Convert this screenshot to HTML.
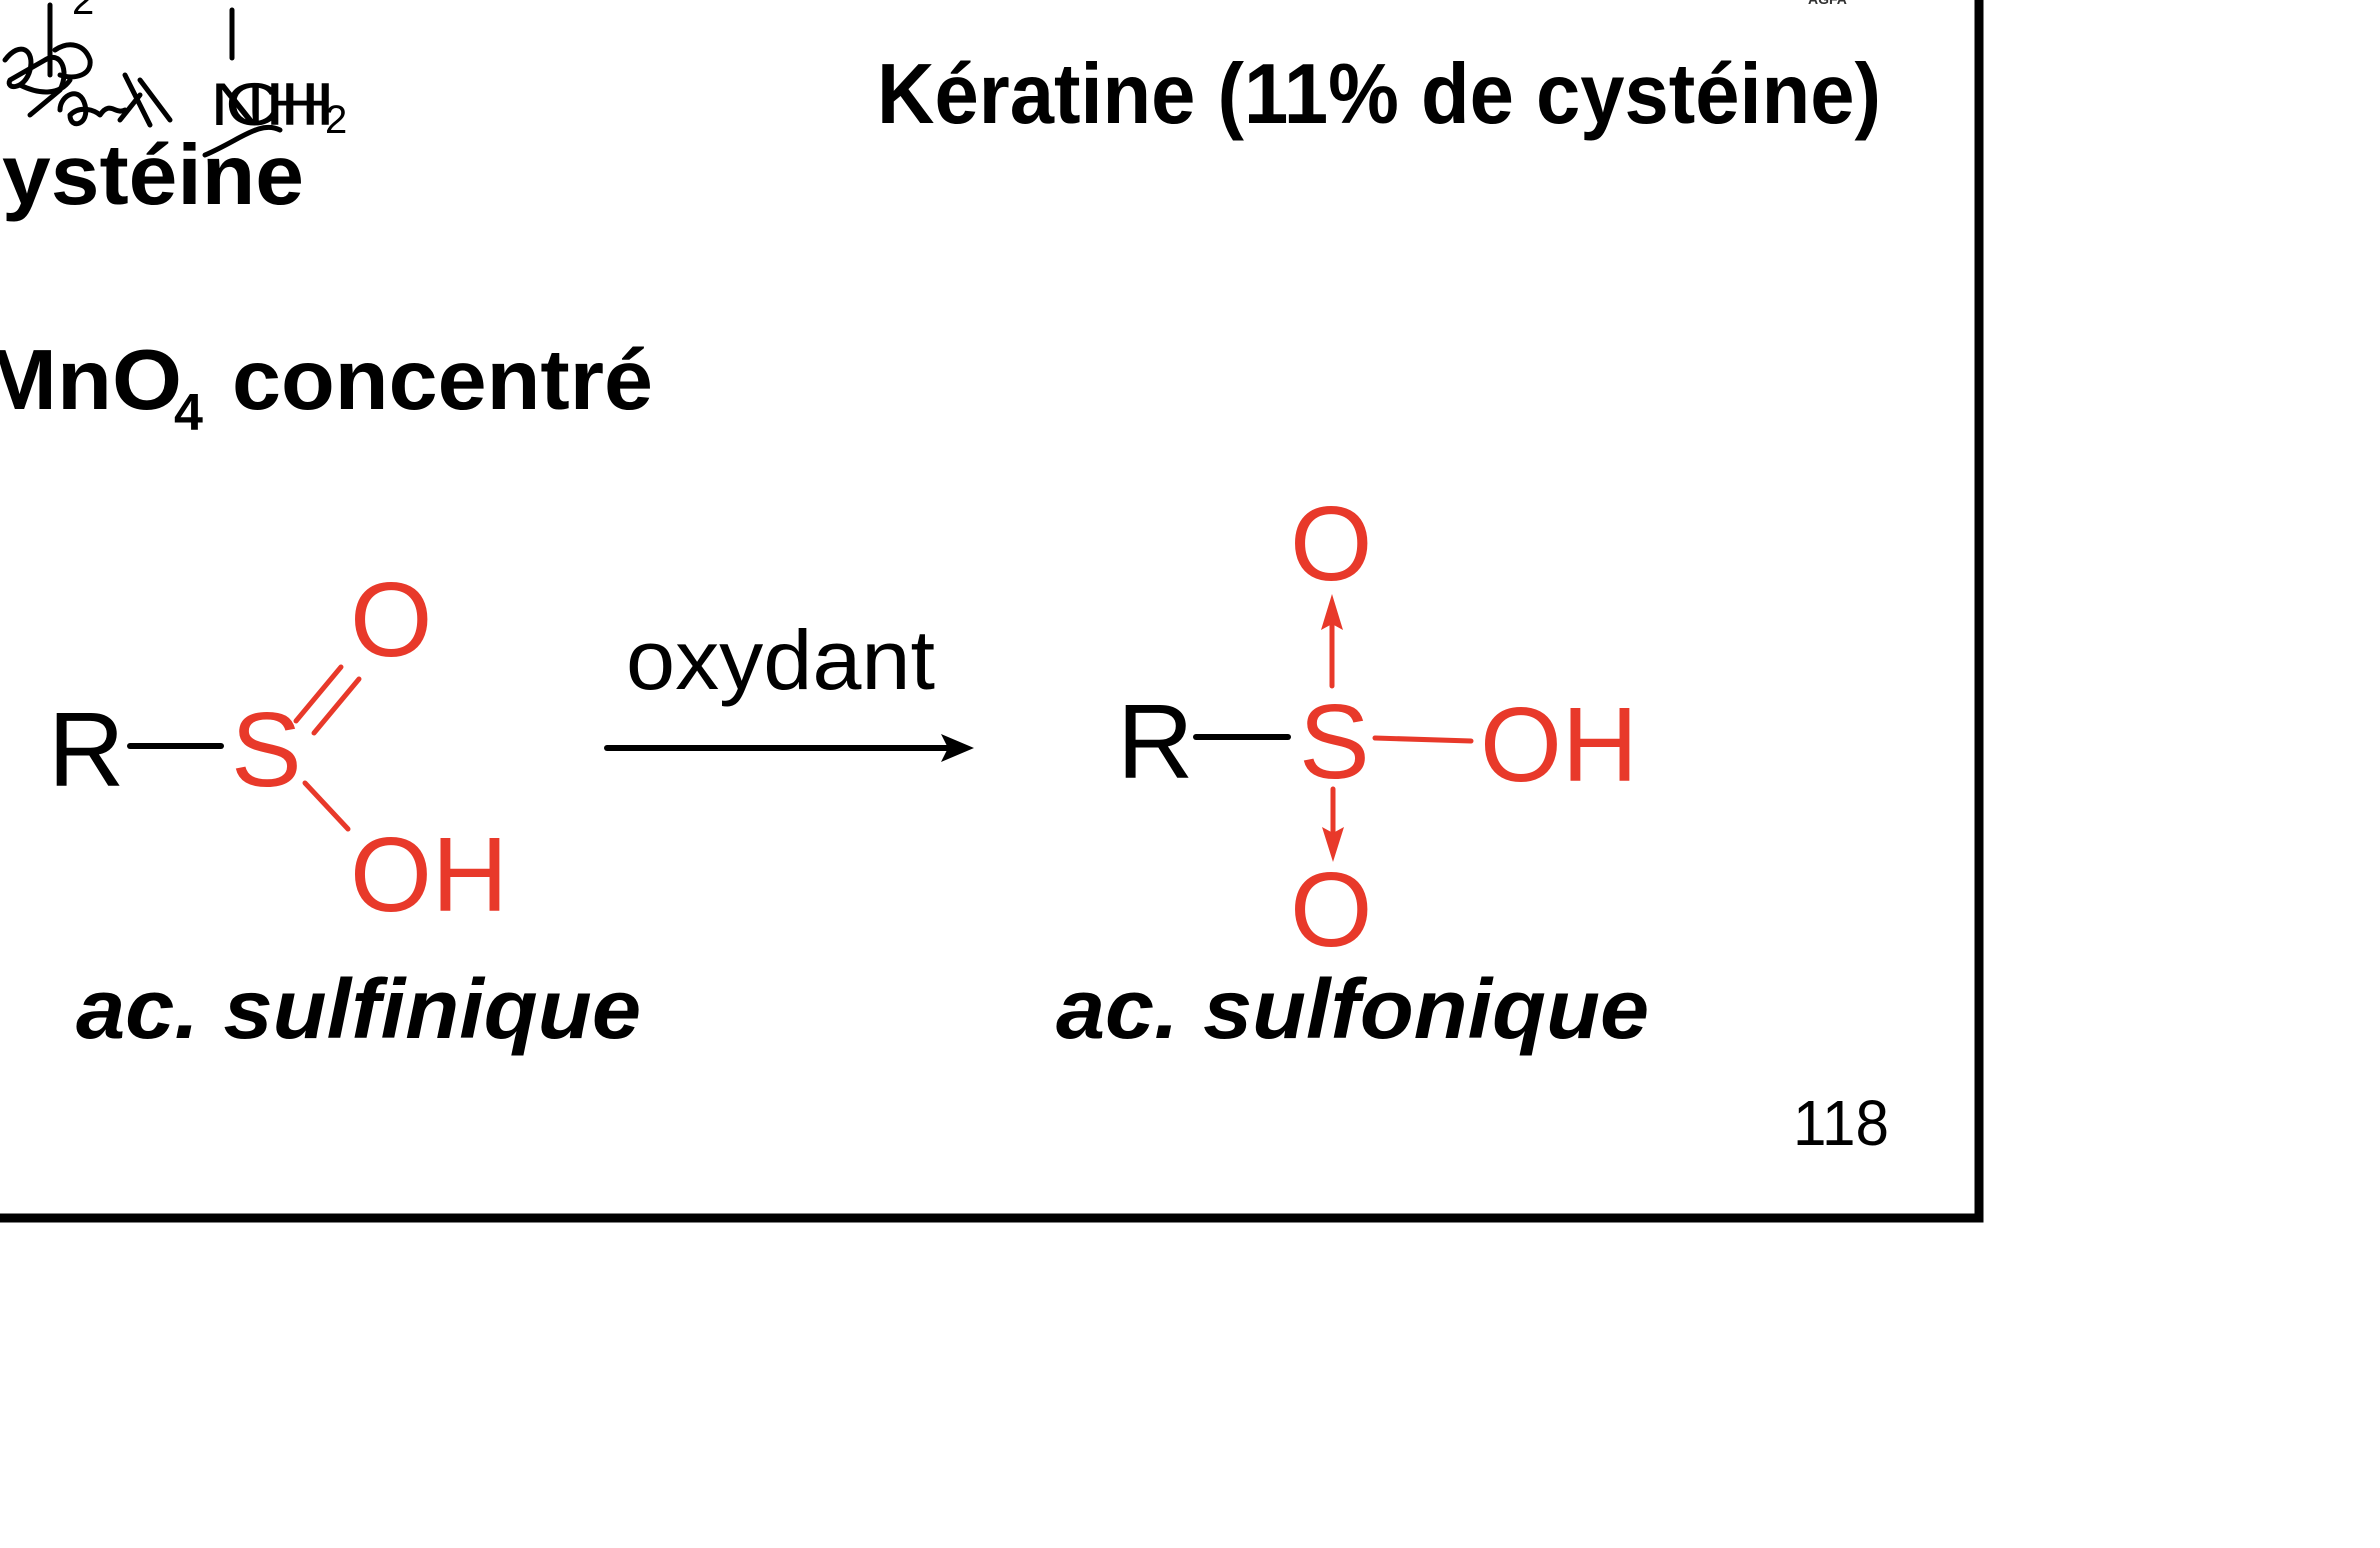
<!DOCTYPE html>
<html><head><meta charset="utf-8"><style>
html,body{margin:0;padding:0;background:#fff;}
svg{display:block;}
</style></head><body>
<svg width="2380" height="1548" viewBox="0 0 2380 1548" xmlns="http://www.w3.org/2000/svg">
<rect width="2380" height="1548" fill="#fff"/>
<!-- frame -->
<path d="M1979 -10 V1218 H-10" fill="none" stroke="#000" stroke-width="9"/>
<!-- scribbles -->
<g fill="none" stroke="#000" stroke-width="5" stroke-linecap="round" stroke-linejoin="round">
<path d="M232 10 V58"/>
<path d="M50 5 V75"/>
<path d="M5 60 C20 40 35 50 30 70 C25 90 5 90 10 80 L45 60 C60 50 70 70 60 90 L30 115"/>
<path d="M55 50 C70 40 85 45 90 60 C92 75 75 80 60 75 M20 85 C40 95 60 95 70 80"/>
<path d="M60 110 C60 95 80 85 85 105 C90 125 70 130 70 115 C80 105 95 110 100 115 C110 100 115 115 125 110"/>
<path d="M125 75 L150 125 M140 95 L120 120 M140 80 L170 120"/>
<path d="M205 155 C240 140 260 120 280 130"/>
</g>
<text x="72" y="14" font-family="Liberation Sans, sans-serif" font-size="40" fill="#000">2</text>
<text x="210" y="125" font-family="Liberation Sans, sans-serif" font-size="60" fill="#000" textLength="110" lengthAdjust="spacingAndGlyphs">NH</text>
<text x="225" y="125" font-family="Liberation Sans, sans-serif" font-size="60" fill="#000" textLength="110" lengthAdjust="spacingAndGlyphs">CH</text>
<text x="325" y="133" font-family="Liberation Sans, sans-serif" font-size="40" fill="#000">2</text>
<!-- logo -->
<text x="1808" y="4" font-family="Liberation Sans, sans-serif" font-size="14" font-weight="bold" fill="#333">AGFA</text>
<!-- titles -->
<text x="877" y="123" font-family="Liberation Sans, sans-serif" font-size="85" font-weight="bold" fill="#000" textLength="1004" lengthAdjust="spacingAndGlyphs">Kératine (11% de cystéine)</text>
<text x="2" y="204" font-family="Liberation Sans, sans-serif" font-size="85" font-weight="bold" fill="#000" textLength="302" lengthAdjust="spacingAndGlyphs">ystéine</text>
<text x="-18" y="409" font-family="Liberation Sans, sans-serif" font-size="85" font-weight="bold" fill="#000" textLength="200" lengthAdjust="spacingAndGlyphs">MnO</text>
<text x="174" y="430" font-family="Liberation Sans, sans-serif" font-size="52" font-weight="bold" fill="#000">4</text>
<text x="232" y="409" font-family="Liberation Sans, sans-serif" font-size="85" font-weight="bold" fill="#000" textLength="421" lengthAdjust="spacingAndGlyphs">concentré</text>
<!-- left molecule -->
<g font-family="Liberation Sans, sans-serif" font-size="106">
<text x="48" y="786" fill="#000">R</text>
<text x="231" y="786" fill="#e8392a">S</text>
<text x="350" y="656" fill="#e8392a">O</text>
<text x="350" y="911" fill="#e8392a" textLength="158" lengthAdjust="spacingAndGlyphs">OH</text>
</g>
<line x1="130" y1="746" x2="221" y2="746" stroke="#000" stroke-width="6" stroke-linecap="round"/>
<g stroke="#e8392a" stroke-width="5" stroke-linecap="round">
<line x1="296" y1="721" x2="341" y2="667"/>
<line x1="314" y1="733" x2="359" y2="679"/>
<line x1="305" y1="783" x2="348" y2="829"/>
</g>
<!-- arrow -->
<text x="626" y="689" font-family="Liberation Sans, sans-serif" font-size="84" fill="#000" textLength="309" lengthAdjust="spacingAndGlyphs">oxydant</text>
<line x1="607" y1="748" x2="955" y2="748" stroke="#000" stroke-width="6" stroke-linecap="round"/>
<path d="M974 748 L941 734 L948 748 L941 762 Z" fill="#000"/>
<!-- right molecule -->
<g font-family="Liberation Sans, sans-serif" font-size="106">
<text x="1117" y="778" fill="#000">R</text>
<text x="1299" y="778" fill="#e8392a">S</text>
<text x="1290" y="580" fill="#e8392a">O</text>
<text x="1290" y="946" fill="#e8392a">O</text>
<text x="1480" y="781" fill="#e8392a" textLength="158" lengthAdjust="spacingAndGlyphs">OH</text>
</g>
<line x1="1196" y1="737" x2="1288" y2="737" stroke="#000" stroke-width="6" stroke-linecap="round"/>
<g stroke="#e8392a" stroke-width="5" stroke-linecap="round">
<line x1="1375" y1="738" x2="1471" y2="741"/>
<line x1="1332" y1="686" x2="1332" y2="615"/>
<line x1="1333" y1="789" x2="1333" y2="835"/>
</g>
<path d="M1332 594 L1321 630 L1332 624 L1343 630 Z" fill="#e8392a"/>
<path d="M1333 862 L1322 827 L1333 833 L1344 827 Z" fill="#e8392a"/>
<!-- labels -->
<g font-family="Liberation Sans, sans-serif" font-size="84" font-weight="bold" font-style="italic" fill="#000">
<text x="76" y="1038" textLength="565" lengthAdjust="spacingAndGlyphs">ac. sulfinique</text>
<text x="1056" y="1038" textLength="593" lengthAdjust="spacingAndGlyphs">ac. sulfonique</text>
</g>
<text x="1793" y="1145" font-family="Liberation Sans, sans-serif" font-size="64" fill="#000" textLength="96" lengthAdjust="spacingAndGlyphs">118</text>
</svg>
</body></html>
